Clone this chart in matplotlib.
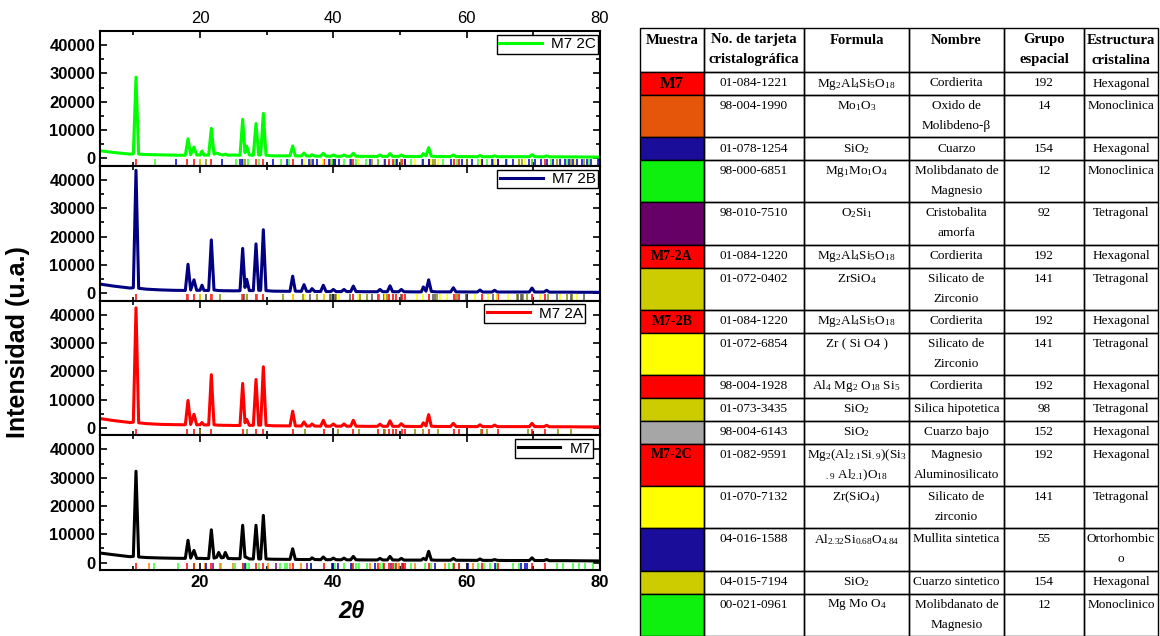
import numpy as np
import matplotlib.pyplot as plt
from matplotlib.ticker import MultipleLocator
from matplotlib.patches import Rectangle

plt.rcParams['font.family'] = 'Liberation Sans'
plt.rcParams['mathtext.fontset'] = 'custom'
plt.rcParams['mathtext.rm'] = 'Liberation Serif'
plt.rcParams['mathtext.default'] = 'regular'

# ---------------- XRD patterns (2theta, intensity) ----------------
two_theta = [5.0, 7.0, 9.5, 10.0, 10.4, 10.8, 12.0, 14.0, 16.0,
             17.8, 18.2, 18.6, 19.1, 19.5, 20.0, 20.3, 20.6,
             21.3, 21.7, 22.1, 22.5, 22.8, 23.2, 23.5, 23.8, 24.2, 25.0,
             26.0, 26.4, 26.75, 27.0, 27.4, 28.0, 28.4, 28.8, 29.1, 29.5, 29.9, 31.0,
             33.5, 33.9, 34.3, 35.2, 35.6, 36.0, 36.5, 36.8, 37.2, 38.1, 38.5, 38.9,
             39.6, 40.0, 40.4, 41.2, 41.6, 42.0, 42.6, 43.0, 43.4, 45.0,
             46.6, 47.0, 47.4, 48.1, 48.5, 48.9, 49.8, 50.2, 50.6, 52.0,
             53.2, 53.5, 53.9, 54.3, 54.7, 55.5, 57.6, 58.0, 58.4,
             61.6, 62.0, 62.4, 63.8, 64.2, 64.6, 66.0, 69.4, 69.8, 70.2, 71.6, 72.0, 72.4, 75.0, 77.5, 80.0]

m7_2c = [2700, 2100, 1500, 1600, 28700, 1500, 1350, 1250, 1150,
         1100, 6900, 1300, 4000, 1200, 1200, 2600, 1150,
         1150, 10600, 1500, 1900, 1600, 1300, 1200, 1500, 1100, 1200,
         1100, 13800, 2000, 4300, 1200, 1100, 12300, 1200, 1200, 15900, 1100, 900,
         900, 4400, 900, 850, 1900, 850, 800, 1300, 800, 800, 1800, 800,
         750, 1200, 750, 750, 1200, 750, 750, 1800, 750, 700,
         700, 1200, 700, 700, 1700, 700, 700, 1200, 700, 650,
         700, 1700, 900, 3800, 800, 650, 650, 1200, 650,
         600, 1000, 600, 600, 900, 600, 600, 600, 1300, 600, 550, 900, 550, 550, 500, 450]

m7_2b = [3200, 2500, 1800, 1900, 43400, 1700, 1400, 1150, 1000,
         950, 10200, 1100, 4700, 1000, 1000, 2800, 950,
         950, 18800, 1100, 1000, 900, 900, 850, 850, 850, 800,
         850, 15800, 2000, 4900, 900, 900, 17400, 1000, 1000, 22400, 900, 700,
         650, 6000, 700, 650, 3000, 650, 600, 1600, 600, 600, 2800, 600,
         550, 1300, 550, 550, 1300, 550, 550, 2500, 550, 500,
         500, 1300, 500, 500, 2600, 500, 500, 1300, 500, 450,
         450, 2200, 700, 4700, 600, 450, 450, 1900, 450,
         400, 1100, 400, 400, 1000, 400, 400, 400, 1800, 400, 400, 1000, 350, 350, 300, 300]

m7_2a = [3300, 2600, 1900, 2000, 42400, 1800, 1500, 1250, 1150,
         1100, 9700, 1200, 4800, 1100, 1100, 1900, 1050,
         1050, 18800, 1100, 1000, 950, 950, 900, 900, 900, 850,
         850, 15700, 1800, 3000, 900, 900, 17100, 950, 950, 21600, 900, 750,
         700, 5900, 700, 650, 2100, 650, 650, 1400, 650, 600, 2700, 600,
         600, 1400, 600, 600, 1400, 600, 600, 2700, 600, 550,
         550, 1300, 550, 550, 2500, 550, 550, 1500, 550, 500,
         500, 1800, 700, 4700, 600, 500, 500, 1600, 500,
         450, 1100, 450, 450, 1000, 450, 450, 450, 1600, 450, 450, 900, 400, 400, 350, 350]

m7 = [3400, 2800, 2100, 2200, 32300, 2000, 1800, 1650, 1550,
      1500, 7900, 1600, 4300, 1500, 1500, 1500, 1450,
      1450, 11600, 1600, 1900, 3600, 1700, 1800, 3600, 1500, 1400,
      1400, 13200, 2000, 1800, 1300, 1300, 13200, 1300, 1300, 16700, 1300, 1200,
      1150, 4900, 1150, 1100, 1100, 1100, 1100, 1700, 1100, 1050, 2000, 1050,
      1050, 1600, 1050, 1000, 1600, 1000, 1000, 2200, 1000, 950,
      950, 1500, 950, 950, 2200, 950, 900, 1500, 900, 900,
      900, 1500, 1000, 4000, 950, 850, 850, 1500, 850,
      800, 1300, 800, 800, 1100, 800, 750, 750, 1700, 750, 750, 1100, 700, 700, 650, 600]

# ---------------- reference patterns (stick positions, 2theta) ----------------
cordierita = [10.4, 18.1, 19.05, 21.7, 26.4, 28.45, 29.5, 33.95, 38.6, 43.0, 46.75, 47.65,
              48.4, 48.9, 49.4, 50.25, 50.75, 54.4, 58.15, 58.85, 62.25, 64.65, 69.75, 71.75]
cordierita_b = [10.45, 18.15, 21.75, 26.35, 28.5, 29.45, 33.9, 38.55, 42.9, 46.8, 48.3, 49.0,
                50.3, 54.3, 58.2, 62.3, 64.5, 69.8, 71.8]
zircon_2a = [20.05, 27.0, 35.75, 40.75, 43.9, 47.75, 52.25, 53.5, 55.75, 62.15, 63.0,
             69.15, 73.65, 75.65]
zircon_2b = [20.0, 26.95, 33.9, 35.7, 38.6, 40.9, 43.7, 47.75, 52.5, 53.5, 56.0, 57.1,
             61.2, 63.25, 64.5, 66.2, 71.0, 74.0, 76.5]
silica_2b = [20.9, 23.0, 27.1, 32.4, 35.4, 37.5, 39.7, 40.4, 44.0, 45.0, 48.0, 55.5,
             58.6, 67.5, 68.5, 69.0, 72.2, 75.0, 75.75]
quartz_low_2b = [20.85, 26.65, 36.55, 39.45, 40.3, 42.45, 45.8, 50.15, 54.9, 55.3, 59.95,
                 64.0, 67.7, 68.1, 68.3, 73.5, 75.6, 77.6]
zircon_2c = [20.0, 26.6, 35.6, 38.5, 43.8, 47.6, 52.2, 53.5, 54.6, 55.7, 62.1, 64.3, 67.9,
             68.7, 74.2, 76.3]
mullite_2c = [16.4, 23.35, 26.0, 26.3, 30.9, 33.1, 35.3, 36.3, 36.9, 37.5, 39.3, 40.3, 40.9,
              42.6, 45.5, 47.7, 49.5, 50.8, 53.4, 54.3, 57.6, 59.3, 60.8, 62.3, 63.8, 64.7,
              65.9, 67.0, 69.4, 70.3, 71.2, 72.1, 73.0, 74.0, 74.7, 75.3, 76.0, 76.6, 77.3,
              78.0, 78.7, 79.7]
quartz_syn_2c = [20.9, 26.7, 36.6, 39.5, 40.3, 42.5, 45.8, 50.2, 55.0, 55.3, 60.0, 64.0,
                 67.8, 68.3, 73.5, 75.6, 77.6, 79.9]
mgmo_2c = [13.2, 25.4, 26.5, 27.2, 28.9, 32.1, 33.4, 39.8, 41.6, 43.4, 44.9, 46.7, 49.3,
           51.7, 53.3, 56.4, 58.6, 61.7, 63.1, 66.0, 69.8, 72.6, 75.1, 78.3]
moo3_m7 = [12.35, 20.75, 23.0, 25.0, 30.15, 33.5, 35.2, 45.5, 49.9, 52.2, 56.7, 61.0]
quartz_m7 = [20.95, 26.75, 36.7, 39.8, 40.7, 42.6, 46.3, 50.5, 55.3, 60.2, 64.2, 68.2,
             68.8, 69.1]
mgmo_m7 = [13.05, 16.65, 19.05, 23.1, 25.25, 26.4, 26.9, 27.3, 28.85, 32.0, 32.8, 33.0,
           36.7, 40.3, 41.6, 42.8, 43.4, 43.8, 45.1, 47.0, 47.5, 49.3, 51.7, 53.7, 54.6,
           57.3, 57.9, 58.8, 61.7, 62.6, 63.5, 64.4, 67.0, 67.9, 73.6, 74.5, 76.0, 76.8,
           77.7, 78.9]
cristobalite_m7 = [21.95, 31.4, 36.1, 48.6]

sample_names = ['M7 2C', 'M7 2B', 'M7 2A', 'M7']

# ---------------- table ----------------
muestra = ['M7', '', '', '', '', 'M7-2A', '', 'M7-2B', '', '', '', '', 'M7-2C', '', '', '', '']
row_colors = ['#ff0000', '#e6560a', '#1a0d99', '#0ef00e', '#660066', '#ff0000', '#cccc00',
              '#ff0000', '#ffff00', '#ff0000', '#cccc00', '#a6a6a6', '#ff0000', '#ffff00',
              '#1a0d99', '#cccc00', '#0ef00e']
tarjeta = ['01-084-1221', '98-004-1990', '01-078-1254', '98-000-6851', '98-010-7510',
           '01-084-1220', '01-072-0402', '01-084-1220', '01-072-6854', '98-004-1928',
           '01-073-3435', '98-004-6143', '01-082-9591', '01-070-7132', '04-016-1588',
           '04-015-7194', '00-021-0961']
formula = [r'Mg$_2$Al$_4$Si$_5$O$_{18}$', r'Mo$_1$O$_3$', r'SiO$_2$', r'Mg$_1$Mo$_1$O$_4$',
           r'O$_2$Si$_1$', r'Mg$_2$Al$_4$Si$_5$O$_{18}$', r'ZrSiO$_4$',
           r'Mg$_2$Al$_4$Si$_5$O$_{18}$', 'Zr ( Si O4 )', r'Al$_4$ Mg$_2$ O$_{18}$ Si$_5$',
           r'SiO$_2$', r'SiO$_2$', 'Mg$_2$(Al$_{2.1}$Si$_{.9}$)(Si$_3$\n${}_{.9}$ Al$_{2.1}$)O$_{18}$',
           r'Zr(SiO$_4$)', r'Al$_{2.32}$Si$_{0.68}$O$_{4.84}$', r'SiO$_2$', r'Mg Mo O$_4$']
nombre = ['Cordierita', 'Oxido de\nMolibdeno-β', 'Cuarzo', 'Molibdanato de\nMagnesio',
          'Cristobalita\namorfa', 'Cordierita', 'Silicato de\nZirconio', 'Cordierita',
          'Silicato de\nZirconio', 'Cordierita', 'Silica hipotetica', 'Cuarzo bajo',
          'Magnesio\nAluminosilicato', 'Silicato de\nzirconio', 'Mullita sintetica',
          'Cuarzo sintetico', 'Molibdanato de\nMagnesio']
grupo = ['192', '14', '154', '12', '92', '192', '141', '192', '141', '192', '98', '152',
         '192', '141', '55', '154', '12']
estructura = ['Hexagonal', 'Monoclinica', 'Hexagonal', 'Monoclinica', 'Tetragonal',
              'Hexagonal', 'Tetragonal', 'Hexagonal', 'Tetragonal', 'Hexagonal', 'Tetragonal',
              'Hexagonal', 'Hexagonal', 'Tetragonal', 'Ortorhombic\no', 'Hexagonal',
              'Monoclinico']
headers = ['Muestra', 'No. de tarjeta\ncristalográfica', 'Formula', 'Nombre',
           'Grupo\nespacial', 'Estructura\ncristalina']

W, H = 1160, 636
fig = plt.figure(figsize=(W / 100, H / 100), dpi=100)

# ---------- left: stacked patterns ----------
curves = [m7_2c, m7_2b, m7_2a, m7]
line_colors = ['#00ff00', '#000080', '#ff0000', '#000000']
sticks = [
    [(cordierita, '#ff0000'), (zircon_2c, '#ffff00'), (quartz_syn_2c, '#8c8c00'),
     (mgmo_2c, '#33ff33'), (mullite_2c, '#0000cc')],
    [(cordierita, '#ff0000'), (cordierita_b, '#ff3333'), (zircon_2b, '#ffff00'),
     (silica_2b, '#8c8c00'), (quartz_low_2b, '#555555')],
    [(cordierita, '#ff0000'), (zircon_2a, '#8c8c00')],
    [(mgmo_m7, '#33ff33'), (moo3_m7, '#ff8000'), (quartz_m7, '#0000cc'),
     (cristobalite_m7, '#800080'), (cordierita, '#ff0000')],
]
legend_inset = [2, 2, 15, 7]   # px from right spine

top_px, bot_px = 31, 570
ph = (bot_px - top_px) / 4
for i in range(4):
    ax = fig.add_axes([100 / W, 1 - (top_px + ph * (i + 1)) / H, 500 / W, ph / H])
    for pos, c in sticks[i]:
        ax.vlines(pos, -2600, -300, colors=c, lw=1.1)
    ax.plot(two_theta, curves[i], color=line_colors[i], lw=2.2, label=sample_names[i])
    ax.set_xlim(5, 80)
    ax.set_ylim(-2600, 45000)
    ax.xaxis.set_major_locator(MultipleLocator(20))
    ax.xaxis.set_minor_locator(MultipleLocator(10))
    ax.yaxis.set_major_locator(MultipleLocator(10000))
    ax.yaxis.set_minor_locator(MultipleLocator(5000))
    ax.tick_params(which='both', direction='in', top=True, right=True, width=1.2)
    ax.tick_params(which='major', length=5)
    ax.tick_params(which='minor', length=3)
    ax.tick_params(axis='x', labelbottom=(i == 3), labeltop=(i == 0), labelsize=12)
    ax.tick_params(axis='y', labelsize=12)
    for lab in ax.get_yticklabels():
        lab.set_fontweight('bold')
    if i == 3:
        for lab in ax.get_xticklabels():
            lab.set_fontweight('bold')
    for s in ax.spines.values():
        s.set_linewidth(1.5)
    leg = ax.legend(loc='upper right', bbox_to_anchor=(1 - legend_inset[i] / 500, 1 - 4 / ph),
                    borderaxespad=0, fontsize=11, handlelength=2.8, handletextpad=0.6,
                    borderpad=0.15, fancybox=False, framealpha=1, edgecolor='black')
    leg.get_frame().set_linewidth(1.0)

fig.text(18 / W, 1 - 342 / H, 'Intensidad (u.a.)', rotation=90, ha='center', va='center',
         fontsize=18, fontweight='bold')
fig.text(352 / W, 1 - 612 / H, '2θ', ha='center', va='center', fontsize=17,
         fontweight='bold', fontstyle='italic')

# ---------- right: table ----------
tab = fig.add_axes([0, 0, 1, 1], zorder=-1)
tab.set_xlim(0, W)
tab.set_ylim(H, 0)
tab.axis('off')

col_x = [640, 704, 804, 909, 1004, 1084, 1158]
serif = 'Liberation Serif'


def cell_text(xc, ytop, txt, row_h, **kw):
    lines = txt.split('\n')
    if len(lines) == 1 and row_h < 30:
        tab.text(xc, ytop + row_h / 2, lines[0], ha='center', va='center', family=serif, **kw)
    else:
        for k, ln in enumerate(lines):
            tab.text(xc, ytop + 11 + 20 * k, ln, ha='center', va='center', family=serif, **kw)


# header
y = 28
hh = 44
for j, h in enumerate(headers):
    tab.add_patch(Rectangle((col_x[j], y), col_x[j + 1] - col_x[j], hh, fill=False,
                            edgecolor='black', lw=1))
    xc = (col_x[j] + col_x[j + 1]) / 2
    for k, ln in enumerate(h.split('\n')):
        tab.text(xc, y + 12 + 20 * k, ln, ha='center', va='center', family=serif,
                 fontsize=10.5, fontweight='bold')
y += hh

for r in range(len(tarjeta)):
    cells = [tarjeta[r], formula[r], nombre[r], grupo[r], estructura[r]]
    nl = max(c.count('\n') + 1 for c in cells)
    rh = 23 if nl == 1 else 42.2
    tab.add_patch(Rectangle((col_x[0], y), col_x[1] - col_x[0], rh, facecolor=row_colors[r],
                            edgecolor='black', lw=1))
    if muestra[r]:
        fs = 12 if muestra[r] == 'M7' else 10
        ty = y + rh / 2 if nl == 1 else y + 11
        tab.text((col_x[0] + col_x[1]) / 2, ty, muestra[r], ha='center',
                 va='center', family=serif, fontsize=fs, fontweight='bold')
    for j, c in enumerate(cells):
        x0, x1 = col_x[j + 1], col_x[j + 2]
        tab.add_patch(Rectangle((x0, y), x1 - x0, rh, fill=False, edgecolor='black', lw=1))
        cell_text((x0 + x1) / 2, y, c, rh, fontsize=9.5)
    y += rh

fig.savefig('out.png', dpi=100, facecolor='white')
